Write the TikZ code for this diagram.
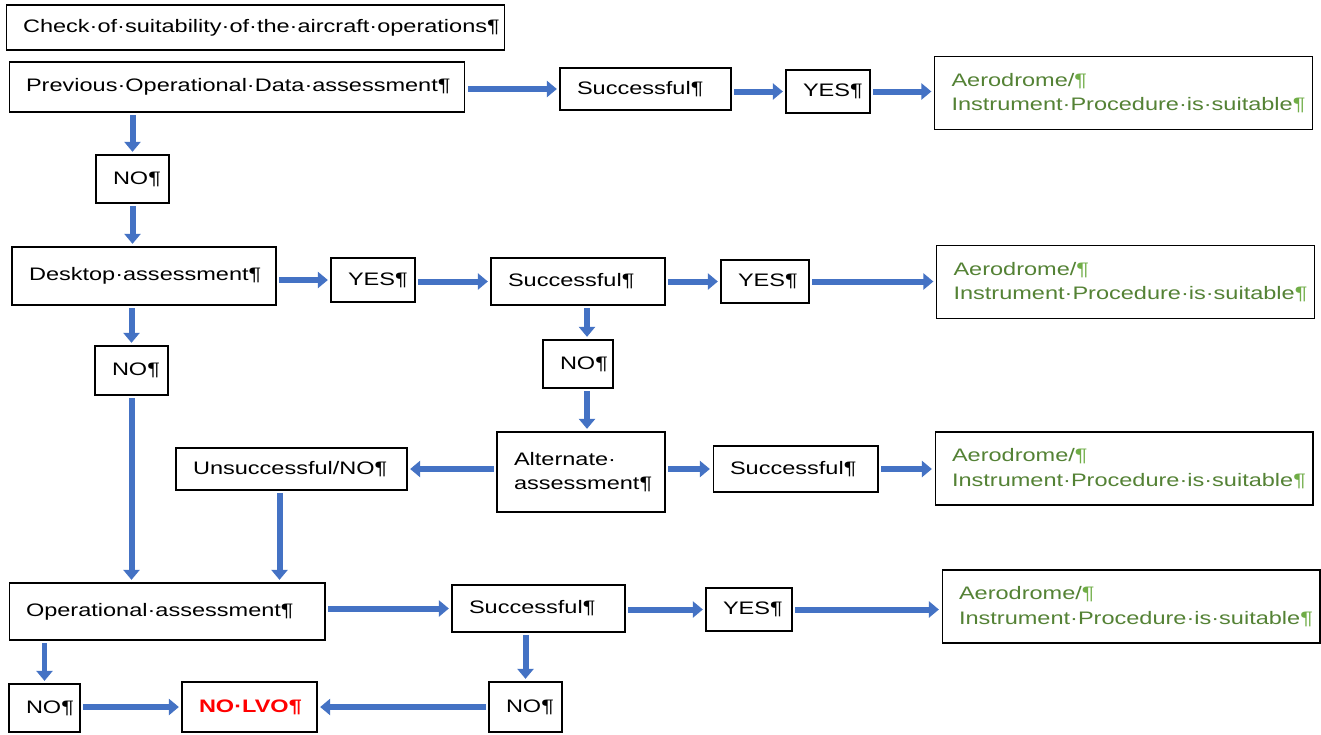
\documentclass[tikz,border=0pt]{standalone}
\usepackage{fontspec}
\setmainfont{Liberation Sans}[FakeStretch=1.3]
\usetikzlibrary{arrows.meta,calc,positioning}
\definecolor{arrowblue}{HTML}{4472C4}
\definecolor{okgreen}{HTML}{548235}
\definecolor{pilcrow}{HTML}{70AD47}

\begin{document}
\begin{tikzpicture}[x=0.02cm,y=-0.02cm,>={Triangle[length=0.2cm,width=0.32cm]},
  every edge/.style={draw=arrowblue,line width=0.12cm,->,shorten >=1.5pt,shorten <=1.5pt},
  box/.style={draw,line width=0.6pt,align=left,inner xsep=0.34cm,inner ysep=0pt,
    font=\fontsize{10.3pt}{14pt}\selectfont},
  ok/.style={box,text=okgreen,text width=6.88cm,minimum height=1.46cm}]
  \useasboundingbox[fill=white] (0,0) rectangle (1321,734);

  % first row
  \node[box,text width=9.30cm,minimum height=0.90cm] (title) at (255.5,27.5) {Check·of·suitability·of·the·aircraft·operations¶};
  \node[box,text width=8.44cm,minimum height=1.00cm] (prev)  at (237,87)     {Previous·Operational·Data·assessment¶};
  \node[box,text width=2.74cm,minimum height=0.84cm] (succ1) at (645.5,89)   {Successful¶};
  \node[box,text width=1.00cm,minimum height=0.86cm] (yes1)  at (828,91.5)   {YES¶};
  \node[ok] (aero1) at (1123.5,93) {Aerodrome/\textcolor{pilcrow}{¶}\\Instrument·Procedure·is·suitable\textcolor{pilcrow}{¶}};
  \node[box,text width=0.78cm,minimum height=0.96cm] (no1)   at (132.5,179)  {NO¶};

  % desktop
  \node[box,text width=4.60cm,minimum height=1.16cm] (desk)  at (144,276)    {Desktop·assessment¶};
  \node[box,text width=1.00cm,minimum height=0.88cm] (yes2)  at (373,280)    {YES¶};
  \node[box,text width=2.80cm,minimum height=0.94cm] (succ2) at (578,281.5)  {Successful¶};
  \node[box,text width=1.08cm,minimum height=0.86cm] (yes3)  at (765,281.5)  {YES¶};
  \node[ok] (aero2) at (1125.5,282) {Aerodrome/\textcolor{pilcrow}{¶}\\Instrument·Procedure·is·suitable\textcolor{pilcrow}{¶}};
  \node[box,text width=0.78cm,minimum height=0.98cm] (no2)   at (131.5,370.5) {NO¶};
  \node[box,text width=0.72cm,minimum height=0.96cm] (no3)   at (578,364)    {NO¶};

  % alternate
  \node[box,text width=2.68cm,minimum height=1.60cm] (alt)   at (581,472)    {Alternate·\\assessment¶};
  \node[box,text width=3.94cm,minimum height=0.84cm] (unsucc) at (291.5,469) {Unsuccessful/NO¶};
  \node[box,text width=2.62cm,minimum height=0.92cm] (succ3) at (795.5,469)  {Successful¶};
  \node[ok] (aero3) at (1124,468.5) {Aerodrome/\textcolor{pilcrow}{¶}\\Instrument·Procedure·is·suitable\textcolor{pilcrow}{¶}};

  % operational
  \node[box,text width=5.64cm,minimum height=1.14cm] (opas)  at (167,611.5)  {Operational·assessment¶};
  \node[box,text width=2.78cm,minimum height=0.94cm] (succ4) at (538.5,608.5) {Successful¶};
  \node[box,text width=1.04cm,minimum height=0.86cm] (yes4)  at (749,609.5)  {YES¶};
  \node[ok] (aero4) at (1131,606.5) {Aerodrome/\textcolor{pilcrow}{¶}\\Instrument·Procedure·is·suitable\textcolor{pilcrow}{¶}};
  \node[box,text width=0.74cm,minimum height=0.96cm] (no4)   at (44.5,708)   {NO¶};
  \node[box,text width=2.02cm,minimum height=1.00cm] (nolvo) at (249.5,707)  {\textcolor{red}{\bfseries NO·LVO¶}};
  \node[box,text width=0.78cm,minimum height=1.00cm] (no5)   at (525.5,707)  {NO¶};

  \coordinate (s2) at ([xshift=0.18cm]succ2.south);
  \coordinate (u1) at ([xshift=-0.24cm]unsucc.south);

  \path
(prev.east |- succ1) edge (succ1)
(succ1.east |- yes1) edge (yes1)
(yes1) edge (yes1 -| aero1.west)
(prev.south -| no1) edge (no1)
(no1) edge (no1 |- desk.north)
(desk.east |- yes2) edge (yes2)
(yes2.east |- succ2) edge (succ2)
(succ2) edge (yes3)
(yes3) edge (yes3 -| aero2.west)
(desk.south -| no2) edge (no2)
(no2) edge (no2 |- opas.north)
(s2) edge (s2 |- no3.north)
(no3.south -| s2) edge (s2 |- alt.north)
(alt.west |- unsucc) edge (unsucc)
(alt.east |- succ3) edge (succ3)
(succ3) edge (succ3 -| aero3.west)
(u1) edge (u1 |- opas.north)
(opas.east |- succ4) edge (succ4)
(succ4.east |- yes4) edge (yes4)
(yes4) edge (yes4 -| aero4.west)
(opas.south -| no4) edge (no4)
(no4.east |- nolvo) edge (nolvo)
(succ4.south -| no5) edge (no5)
(no5) edge (nolvo)
;
\end{tikzpicture}
\end{document}
